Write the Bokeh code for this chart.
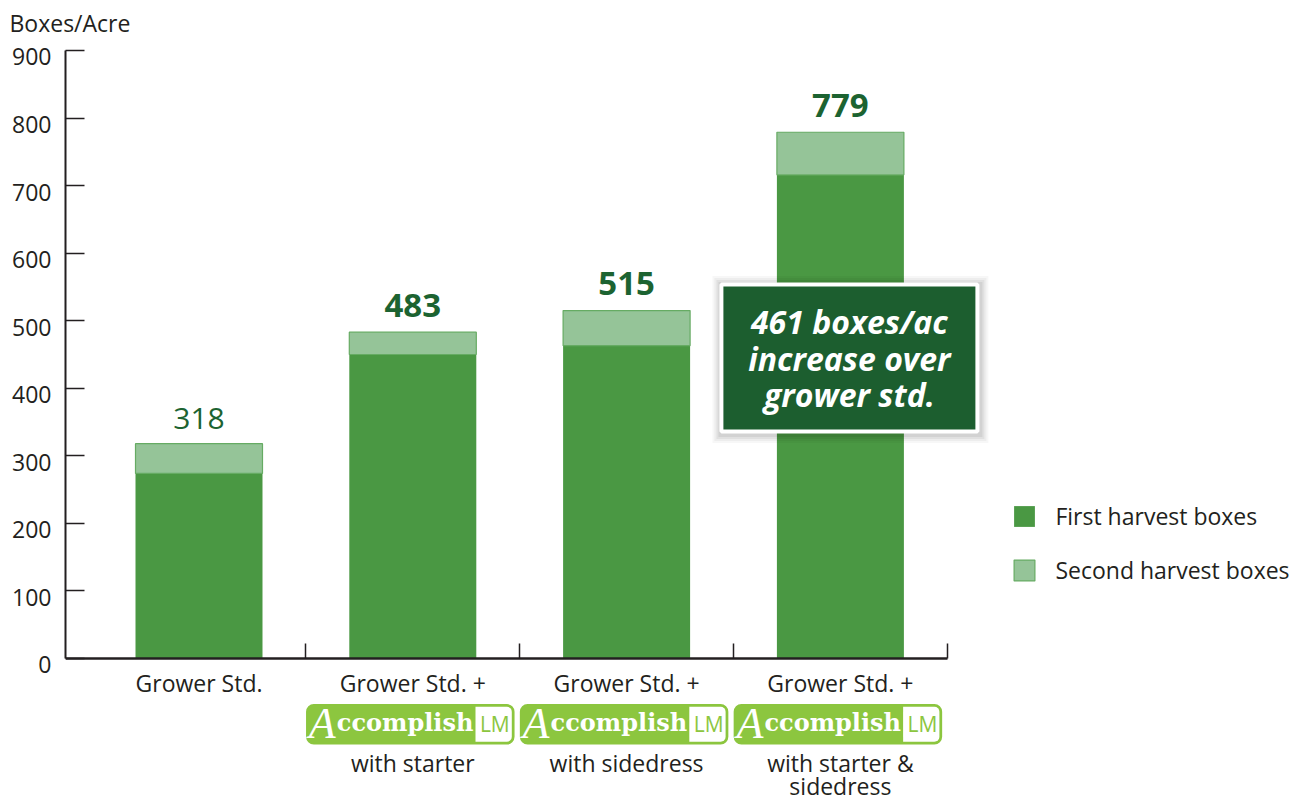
from bokeh.plotting import figure
from bokeh.models import (Range1d, LinearAxis, FixedTicker, Legend, LegendItem,
                          ColumnDataSource, CustomJSTickFormatter)
from bokeh.core.properties import value
from bokeh.embed import file_html
from bokeh.resources import INLINE

# ---------------- data ----------------
categories = ["Grower Std.",
              "Grower Std. + Accomplish LM with starter",
              "Grower Std. + Accomplish LM with sidedress",
              "Grower Std. + Accomplish LM with starter & sidedress"]
first_harvest = [274, 450, 463, 716]
second_harvest = [44, 33, 52, 63]
totals = [318, 483, 515, 779]
total_bold = [False, True, True, True]
label_line1 = ["Grower Std.", "Grower Std. +", "Grower Std. +", "Grower Std. +"]
label_line2 = ["", "with starter", "with sidedress", "with starter &"]
label_line3 = ["", "", "", "sidedress"]
has_logo = [False, True, True, True]
y_ticks = [0, 100, 200, 300, 400, 500, 600, 700, 800, 900]
y_title = "Boxes/Acre"
series_names = ["First harvest boxes", "Second harvest boxes"]
callout_lines = ["461 boxes/ac", "increase over", "grower std."]

# ---------------- style ----------------
C1 = "#4a9843"
C2 = "#95c498"
C2_LINE = "#66ab63"
DARK = "#1c5e2f"
VALUE_COL = "#1c6331"
LIME = "#8cc63f"
INK = "#231f20"
FONT = "Open Sans"

# ---------------- geometry ----------------
W, H = 1312, 803
FL = 65            # frame left (px)
FT = 40            # frame top (px)
PXX = 213.8        # px per category
CAT0 = 91.6        # px of first category's left edge
Y0 = 658           # px of y = 0
PXY = 608 / 900    # px per unit
LABEL_DROP = 6.4 / PXY   # tick labels sit slightly below their ticks
x_start = -(CAT0 - FL) / PXX
x_end = x_start + (W - FL) / PXX
y_end = (Y0 - FT) / PXY
y_start = -(H - Y0) / PXY

xs = [i + 0.5 for i in range(len(categories))]

p = figure(width=W, height=H, x_range=Range1d(x_start, x_end),
           y_range=Range1d(y_start, y_end), x_axis_type=None, y_axis_type=None,
           output_backend="svg", toolbar_location=None,
           min_border_left=FL, min_border_right=0, min_border_top=FT,
           min_border_bottom=0)
p.outline_line_color = None
p.background_fill_color = "white"
p.border_fill_color = "white"

# title used as the y-axis caption at the top-left
p.title.text = y_title
p.title.align = "left"
p.title.offset = -56
p.title.standoff = 3
p.title.text_font = FONT
p.title.text_font_size = "23px"
p.title.text_font_style = "normal"
p.title.text_color = INK

# y axis: line + ticks
yaxis = LinearAxis(ticker=FixedTicker(ticks=y_ticks), bounds=(0, 900),
                   major_tick_in=19, major_tick_out=0,
                   minor_tick_in=0, minor_tick_out=0,
                   axis_line_width=2, axis_line_color=INK,
                   major_tick_line_width=1.5, major_tick_line_color=INK,
                   major_label_text_font_size="0px", major_label_text_alpha=0,
                   major_label_text_color=None, major_label_standoff=0)
p.add_layout(yaxis, "left")
# y axis: tick labels (placed a little below each tick, as in the original)
ylab = LinearAxis(ticker=FixedTicker(ticks=[t - LABEL_DROP for t in y_ticks]),
                  formatter=CustomJSTickFormatter(
                      args=dict(drop=LABEL_DROP),
                      code="return String(Math.round((tick + drop) / 100) * 100);"),
                  axis_line_color=None, major_tick_line_color=None,
                  minor_tick_line_color=None, major_tick_in=0, major_tick_out=0,
                  minor_tick_in=0, minor_tick_out=0,
                  major_label_text_font=FONT, major_label_text_font_size="23px",
                  major_label_text_color=INK, major_label_standoff=14)
p.add_layout(ylab, "left")

xaxis = LinearAxis(ticker=FixedTicker(ticks=[1, 2, 3, 4]), bounds=(x_start, 4),
                   fixed_location=0,
                   major_tick_in=15, major_tick_out=0,
                   minor_tick_in=0, minor_tick_out=0,
                   axis_line_width=2.5, axis_line_color=INK,
                   major_tick_line_width=1.5, major_tick_line_color=INK,
                   major_label_text_font_size="0px", major_label_text_alpha=0,
                   major_label_text_color=None, major_label_standoff=0)
p.add_layout(xaxis, "below")

# bars
src = ColumnDataSource(dict(x=xs, first=first_harvest, second=second_harvest))
rs = p.vbar_stack(["first", "second"], x="x", width=0.594, source=src,
                  fill_color=[C1, C2], line_color=[None, C2_LINE], line_width=1.2)

# value labels
reg = [i for i, b in enumerate(total_bold) if not b]
bold = [i for i, b in enumerate(total_bold) if b]
p.text(x=[xs[i] for i in reg], y=[totals[i] for i in reg],
       text=[str(totals[i]) for i in reg], y_offset=-25.5,
       text_align="center", text_baseline="alphabetic",
       text_font=value(FONT), text_font_size="30px", text_color=VALUE_COL)
p.text(x=[xs[i] for i in bold], y=[totals[i] for i in bold],
       text=[str(totals[i]) for i in bold], y_offset=-27,
       text_align="center", text_baseline="alphabetic",
       text_font=value(FONT), text_font_size="33px", text_font_style="bold",
       text_color=VALUE_COL)

# category labels (drawn only where a line exists)
lab_kw = dict(text_align="center", text_baseline="alphabetic",
              text_font=value(FONT), text_font_size="23px", text_color=INK)
for lines, off in [(label_line1, 24.2), (label_line2, 104.5), (label_line3, 127.5)]:
    idx = [i for i, t in enumerate(lines) if t]
    p.text(x=[xs[i] for i in idx], y=[0] * len(idx), text=[lines[i] for i in idx],
           y_offset=off, **lab_kw)

# Accomplish LM logos
lx = [xs[i] for i in range(4) if has_logo[i]]
n = len(lx)
lleft = [x - 106 / PXX for x in lx]
lright = [l + 207 / PXX for l in lleft]
ltop = (Y0 - 704.3) / PXY
lbot = (Y0 - 743.3) / PXY
p.quad(left=lleft, right=lright, top=ltop, bottom=lbot, fill_color=LIME,
       line_color=LIME, line_width=1.5, border_radius=7)
p.quad(left=[l + 168.7 / PXX for l in lleft], right=[r - 2 / PXX for r in lright],
       top=ltop - 2 / PXY, bottom=lbot + 2 / PXY, fill_color="white",
       line_color=None, border_radius=(0, 5, 5, 0))
p.text(x=lleft, y=[0] * n, text=["A"] * n, x_offset=2, y_offset=65,
       text_align="left", text_baseline="alphabetic",
       text_font=value("Liberation Serif"), text_font_style="italic",
       text_font_size="44px", text_color="white")
p.text(x=lleft, y=[0] * n, text=["ccomplish"] * n, x_offset=30,
       y_offset=64, text_align="left", text_baseline="alphabetic",
       text_font=value("DejaVu Serif"), text_font_style="bold",
       text_font_size="24px", text_color="white")
p.text(x=lleft, y=[0] * n, text=["LM"] * n, x_offset=188,
       y_offset=65.5, text_align="center", text_baseline="alphabetic",
       text_font=value(FONT), text_font_size="21px", text_color=LIME)

# callout box
cx = xs[3] + 9 / PXX
cy = (Y0 - 357.5) / PXY
for k, a in [(16, 0.03), (12, 0.04), (8, 0.05), (4, 0.06)]:
    p.rect(x=cx + 1 / PXX, y=cy - 1.5 / PXY, width=260 + k, height=151 + k,
           width_units="screen", height_units="screen",
           fill_color="black", fill_alpha=a, line_color=None)
p.rect(x=cx, y=cy, width=256, height=147, width_units="screen",
       height_units="screen", fill_color=DARK, line_color="white", line_width=4)
csrc = ColumnDataSource(dict(x=[cx] * 3, y=[cy] * 3, t=callout_lines,
                             off=[-36.5, 0.5, 36.5]))
p.text(x="x", y="y", text="t", y_offset="off", source=csrc,
       text_align="center", text_baseline="alphabetic",
       text_font=value(FONT), text_font_style="bold italic",
       text_font_size="32px", text_color="white")

# legend
legend = Legend(items=[LegendItem(label=series_names[0], renderers=[rs[0]]),
                       LegendItem(label=series_names[1], renderers=[rs[1]])],
                location=(946.4, 217), orientation="vertical",
                glyph_width=26, glyph_height=26, label_height=21, spacing=22,
                padding=0, margin=0, label_standoff=18,
                label_text_font=FONT, label_text_font_size="23px",
                label_text_color=INK, border_line_color=None,
                background_fill_alpha=0)
p.add_layout(legend)

open("out.html", "w").write(file_html(p, INLINE))
